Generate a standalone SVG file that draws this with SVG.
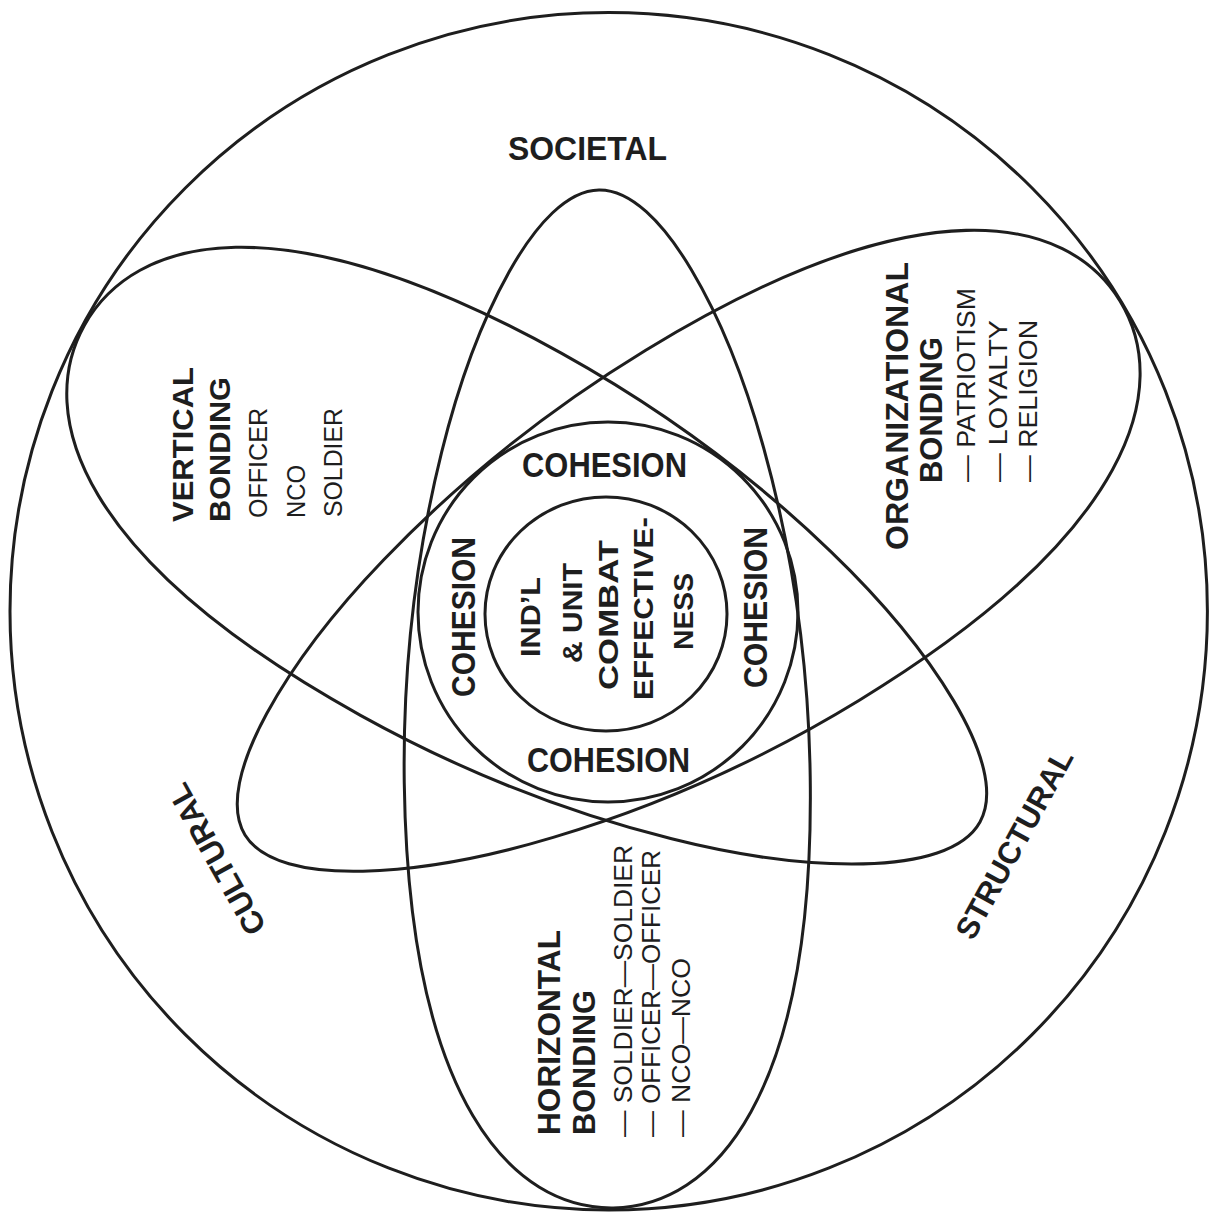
<svg xmlns="http://www.w3.org/2000/svg" width="1209" height="1220" viewBox="0 0 1209 1220">
<style>
.ln{fill:none;stroke:#1e1e1e;stroke-width:3}
.b{font-family:"Liberation Sans",Arial,Helvetica,sans-serif;font-weight:bold;fill:#1e1e1e}
.r{font-family:"Liberation Sans",Arial,Helvetica,sans-serif;font-weight:normal;fill:#1e1e1e}
</style>
<rect width="1209" height="1220" fill="#ffffff"/>
<g id="societal">
<circle class="ln" cx="608.7" cy="611.3" r="598.7"/>
<text class="b" x="508" y="160" font-size="34" textLength="159" lengthAdjust="spacingAndGlyphs">SOCIETAL</text>
</g>
<g id="cultural">
<text class="b" font-size="31" text-anchor="middle" textLength="168" lengthAdjust="spacingAndGlyphs" transform="translate(226,854) rotate(-119.2)">CULTURAL</text>
</g>
<g id="structural">
<text class="b" font-size="31" text-anchor="middle" textLength="211" lengthAdjust="spacingAndGlyphs" transform="translate(1023.6,849.3) rotate(-61.3)">STRUCTURAL</text>
</g>
<g id="vertical-bonding">
<path class="ln" transform="translate(980,822) rotate(209) scale(1.006,1.02)" d="M0,0 C0,63 130,127 260,161 C370,190 480,203 590,203 C910,203 1018,100 1018,0 C1018,-100 910,-203 590,-203 C480,-203 370,-190 260,-161 C130,-127 0,-63 0,0 Z"/>
<text class="b" font-size="29" textLength="155" lengthAdjust="spacingAndGlyphs" transform="translate(193,522) rotate(-90)">VERTICAL</text>
<text class="b" font-size="30" textLength="145" lengthAdjust="spacingAndGlyphs" transform="translate(230,522) rotate(-90)">BONDING</text>
<text class="r" font-size="25" textLength="110" lengthAdjust="spacingAndGlyphs" transform="translate(267,518) rotate(-90)">OFFICER</text>
<text class="r" font-size="25" textLength="53" lengthAdjust="spacingAndGlyphs" transform="translate(305,518) rotate(-90)">NCO</text>
<text class="r" font-size="25" textLength="109" lengthAdjust="spacingAndGlyphs" transform="translate(342,517) rotate(-90)">SOLDIER</text>
</g>
<g id="organizational-bonding">
<path class="ln" transform="translate(245,835) rotate(-31.4) scale(1.007,1.01)" d="M0,0 C0,63 130,127 260,161 C370,190 480,203 590,203 C910,203 1018,100 1018,0 C1018,-100 910,-203 590,-203 C480,-203 370,-190 260,-161 C130,-127 0,-63 0,0 Z"/>
<text class="b" font-size="32" textLength="288" lengthAdjust="spacingAndGlyphs" transform="translate(908,550) rotate(-90)">ORGANIZATIONAL</text>
<text class="b" font-size="32" textLength="146" lengthAdjust="spacingAndGlyphs" transform="translate(942,483) rotate(-90)">BONDING</text>
<text class="r" font-size="26" textLength="194" lengthAdjust="spacingAndGlyphs" transform="translate(975,482) rotate(-90)">— PATRIOTISM</text>
<text class="r" font-size="26" textLength="162" lengthAdjust="spacingAndGlyphs" transform="translate(1007,482) rotate(-90)">— LOYALTY</text>
<text class="r" font-size="26" textLength="162" lengthAdjust="spacingAndGlyphs" transform="translate(1037,482) rotate(-90)">— RELIGION</text>
</g>
<g id="horizontal-bonding">
<path class="ln" transform="translate(599,190) rotate(89.2)" d="M0,0 C0,63 130,127 260,161 C370,190 480,203 590,203 C910,203 1018,100 1018,0 C1018,-100 910,-203 590,-203 C480,-203 370,-190 260,-161 C130,-127 0,-63 0,0 Z"/>
<text class="b" font-size="31" textLength="205" lengthAdjust="spacingAndGlyphs" transform="translate(560,1135) rotate(-90)">HORIZONTAL</text>
<text class="b" font-size="31" textLength="145" lengthAdjust="spacingAndGlyphs" transform="translate(595,1135) rotate(-90)">BONDING</text>
<text class="r" font-size="25" textLength="292" lengthAdjust="spacingAndGlyphs" transform="translate(632,1137) rotate(-90)">— SOLDIER—SOLDIER</text>
<text class="r" font-size="25" textLength="287" lengthAdjust="spacingAndGlyphs" transform="translate(660,1137) rotate(-90)">— OFFICER—OFFICER</text>
<text class="r" font-size="25" textLength="179" lengthAdjust="spacingAndGlyphs" transform="translate(690,1137) rotate(-90)">— NCO—NCO</text>
</g>
<g id="cohesion">
<circle class="ln" cx="608" cy="612" r="190"/>
<text class="b" x="522" y="477" font-size="35" textLength="165" lengthAdjust="spacingAndGlyphs">COHESION</text>
<text class="b" x="527" y="772" font-size="35" textLength="163" lengthAdjust="spacingAndGlyphs">COHESION</text>
<text class="b" font-size="33" textLength="160" lengthAdjust="spacingAndGlyphs" transform="translate(475,697) rotate(-90)">COHESION</text>
<text class="b" font-size="33" textLength="161" lengthAdjust="spacingAndGlyphs" transform="translate(767,688) rotate(-90)">COHESION</text>
</g>
<g id="combat-effectiveness">
<ellipse class="ln" cx="606" cy="614" rx="121" ry="117"/>
<text class="b" font-size="28" text-anchor="middle" textLength="80" lengthAdjust="spacingAndGlyphs" transform="translate(540,617) rotate(-90)">IND’L</text>
<text class="b" font-size="28" text-anchor="middle" textLength="100" lengthAdjust="spacingAndGlyphs" transform="translate(582,613) rotate(-90)">&amp; UNIT</text>
<text class="b" font-size="28" text-anchor="middle" textLength="150" lengthAdjust="spacingAndGlyphs" transform="translate(618,615) rotate(-90)">COMBAT</text>
<text class="b" font-size="28" text-anchor="middle" textLength="183" lengthAdjust="spacingAndGlyphs" transform="translate(653,608.5) rotate(-90)">EFFECTIVE-</text>
<text class="b" font-size="28" text-anchor="middle" textLength="77" lengthAdjust="spacingAndGlyphs" transform="translate(693,611.5) rotate(-90)">NESS</text>
</g>
</svg>
